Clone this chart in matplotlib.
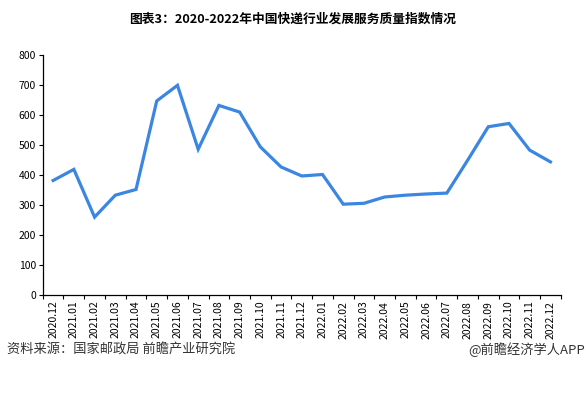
import matplotlib.pyplot as plt
import numpy as np

plt.rcParams['font.family'] = ['Noto Sans CJK SC', 'DejaVu Sans']

# monthly labels and index values
months = ["2020.12", "2021.01", "2021.02", "2021.03", "2021.04", "2021.05",
          "2021.06", "2021.07", "2021.08", "2021.09", "2021.10", "2021.11",
          "2021.12", "2022.01", "2022.02", "2022.03", "2022.04", "2022.05",
          "2022.06", "2022.07", "2022.08", "2022.09", "2022.10", "2022.11",
          "2022.12"]
values = [382, 419, 260, 333, 352, 647, 699, 486, 632, 610, 494, 427,
          397, 402, 303, 306, 327, 333, 337, 340, 449, 561, 572, 483, 444]

fig = plt.figure(figsize=(5.86, 3.93), dpi=100)
ax = fig.add_axes([0.073, 0.249, 0.884, 0.611])

x = np.arange(len(months))
ax.plot(x, values, color="#3b86e0", linewidth=2.3, solid_joinstyle="miter")

ax.set_xlim(-0.5, len(months) - 0.5)
ax.set_ylim(0, 800)
ax.set_yticks(range(0, 801, 100))
ax.tick_params(axis="y", labelsize=7.5, length=3, width=0.8, pad=2)

# labels at category centres, tick marks at the boundaries
ax.set_xticks(x)
ax.set_xticklabels(months, rotation=90, fontsize=7.5)
ax.tick_params(axis="x", which="major", length=0, pad=4)
ax.set_xticks(np.arange(-0.5, len(months)), minor=True)
ax.tick_params(axis="x", which="minor", length=3, width=0.8)

for s in ["top", "right"]:
    ax.spines[s].set_visible(False)
for s in ["left", "bottom"]:
    ax.spines[s].set_linewidth(0.9)

fig.text(0.5, 0.952, "图表3：2020-2022年中国快递行业发展服务质量指数情况",
         ha="center", va="center", fontsize=9.2, fontweight="bold")
fig.text(0.012, 0.11, "资料来源：国家邮政局 前瞻产业研究院",
         ha="left", va="center", fontsize=9.5, color="#333333")
fig.text(0.999, 0.11, "@前瞻经济学人APP",
         ha="right", va="center", fontsize=9.5, color="#333333")

fig.savefig("out.png", dpi=100)
